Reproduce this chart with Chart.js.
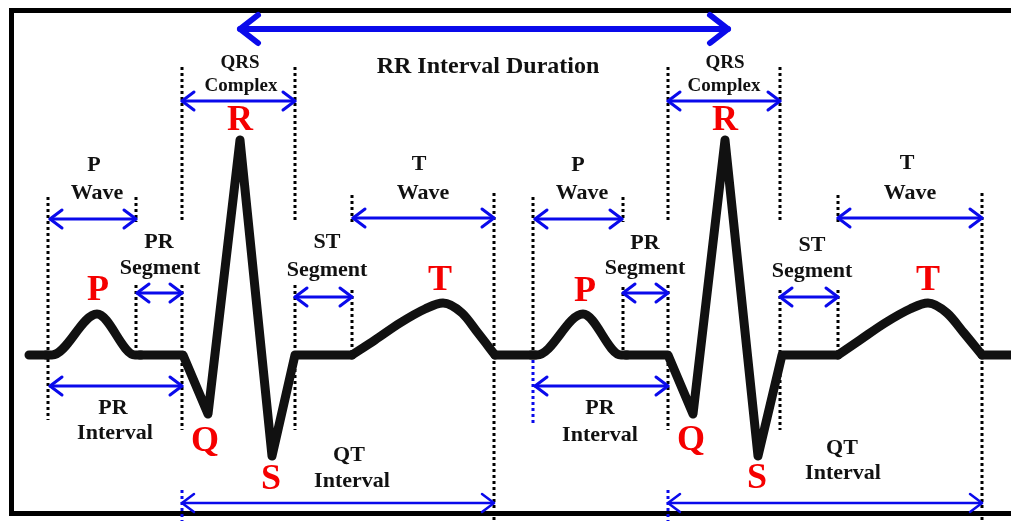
<!DOCTYPE html>
<html>
<head>
<meta charset="utf-8">
<script src="https://cdn.jsdelivr.net/npm/chart.js@4.4.1/dist/chart.umd.min.js"></script>
<style>
  html, body { margin: 0; padding: 0; background: #fff; }
  canvas { display: block; }
</style>
</head>
<body>
<canvas id="ecg" width="1011" height="521"></canvas>
<script>
// ECG trace, two beats (x = time units, y = screen units, down is larger)
// sharp parts: baseline and QRS spikes (null = gap where a smooth wave sits)
const sharpX = [29, 47, 47, 140, 183, 208, 240, 272, 295, 352, 352, 495, 535, 535, 626, 668, 693, 725, 758, 782, 838, 838, 982, 1011];
const sharpY = [355, 355, null, 355, 355, 414, 140, 456, 355, 355, null, 355, 355, null, 355, 355, 414, 140, 456, 355, 355, null, 355, 355];
// smooth parts: P and T waves (short flat stubs either side of each P wave)
const waveX = [46, 52, 97, 135, 141, 141, 352, 375, 400, 425, 443, 462, 478, 495, 495, 531, 537, 583, 621, 627, 627, 838, 860, 885, 910, 928, 947, 964, 982];
const waveY = [355, 355, 314, 355, 355, null, 355, 340, 323, 309, 303, 313, 333, 355, null, 355, 355, 314, 355, 355, null, 355, 340, 323, 309, 303, 313, 333, 355];

// dotted guide lines
const guideX  = [48, 136, 136, 182, 182, 295, 295, 352, 352, 494, 533, 623, 623, 668, 668, 780, 780, 838, 838, 982];
const guideY1 = [197, 197, 285, 67, 285, 67, 285, 195, 290, 193, 197, 197, 287, 67, 285, 67, 290, 195, 290, 193];
const guideY2 = [420, 222, 352, 222, 430, 222, 430, 222, 352, 521, 357, 222, 352, 222, 430, 222, 430, 222, 352, 521];
const blueGuideX  = [182, 533, 668];
const blueGuideY1 = [490, 360, 490];
const blueGuideY2 = [521, 423, 521];

// double arrows
const arrowX1 = [240, 182, 668, 50, 535, 353, 838, 137, 623, 295, 780, 50, 535, 182, 668];
const arrowX2 = [728, 295, 780, 136, 622, 494, 982, 182, 668, 352, 838, 182, 668, 494, 982];
const arrowY  = [29, 101, 101, 219, 219, 218, 218, 293, 293, 297, 297, 386, 386, 503, 503];

// black labels
const labelText = ['RR Interval Duration',
  'P', 'Wave', 'PR', 'Segment', 'ST', 'Segment', 'T', 'Wave', 'PR', 'Interval', 'QT', 'Interval',
  'P', 'Wave', 'PR', 'Segment', 'ST', 'Segment', 'T', 'Wave', 'PR', 'Interval', 'QT', 'Interval'];
const labelX = [488,
  94, 97, 159, 160, 327, 327, 419, 423, 113, 115, 349, 352,
  578, 582, 645, 645, 812, 812, 907, 910, 600, 600, 842, 843];
const labelY = [67,
  165, 193, 242, 268, 242, 270, 164, 193, 408, 433, 455, 481,
  165, 193, 243, 268, 245, 271, 163, 193, 408, 435, 448, 473];
const qrsText = ['QRS', 'Complex', 'QRS', 'Complex'];
const qrsX = [240, 241, 725, 724];
const qrsY = [63, 86, 63, 86];

// red wave letters
const peakText = ['P', 'R', 'Q', 'S', 'T', 'P', 'R', 'Q', 'S', 'T'];
const peakX = [98, 240, 205, 271, 440, 585, 725, 691, 757, 928];
const peakY = [291, 121, 442, 480, 281, 292, 121, 441, 479, 281];

const BLUE = 'rgb(10,10,235)';
const RED = 'rgb(245,0,0)';
const FONT = '"Liberation Serif", "Times New Roman", serif';

function arrowHead(ctx, x, y, dir, len, half) {
  ctx.beginPath();
  ctx.moveTo(x + dir * len, y - half);
  ctx.lineTo(x, y);
  ctx.lineTo(x + dir * len, y + half);
  ctx.stroke();
}

const diagram = {
  id: 'diagram',
  beforeDatasetsDraw(chart) {
    const ctx = chart.ctx;
    const sx = chart.scales.x, sy = chart.scales.y;
    ctx.save();
    // frame (right side is cut off in the original)
    ctx.strokeStyle = '#000';
    ctx.lineWidth = 5;
    ctx.beginPath();
    ctx.moveTo(sx.getPixelForValue(1011), sy.getPixelForValue(10.5));
    ctx.lineTo(sx.getPixelForValue(11.5), sy.getPixelForValue(10.5));
    ctx.lineTo(sx.getPixelForValue(11.5), sy.getPixelForValue(513.5));
    ctx.lineTo(sx.getPixelForValue(1011), sy.getPixelForValue(513.5));
    ctx.stroke();
    // dotted guides
    ctx.lineWidth = 3;
    ctx.setLineDash([3, 3]);
    ctx.strokeStyle = '#000';
    guideX.forEach((x, i) => {
      ctx.beginPath();
      ctx.moveTo(sx.getPixelForValue(x), sy.getPixelForValue(guideY1[i]));
      ctx.lineTo(sx.getPixelForValue(x), sy.getPixelForValue(guideY2[i]));
      ctx.stroke();
    });
    ctx.strokeStyle = BLUE;
    blueGuideX.forEach((x, i) => {
      ctx.beginPath();
      ctx.moveTo(sx.getPixelForValue(x), sy.getPixelForValue(blueGuideY1[i]));
      ctx.lineTo(sx.getPixelForValue(x), sy.getPixelForValue(blueGuideY2[i]));
      ctx.stroke();
    });
    ctx.restore();
  },
  afterDatasetsDraw(chart) {
    const ctx = chart.ctx;
    const sx = chart.scales.x, sy = chart.scales.y;
    ctx.save();
    // arrows
    ctx.strokeStyle = BLUE;
    ctx.lineCap = 'round';
    ctx.lineJoin = 'round';
    arrowX1.forEach((x1, i) => {
      const big = i === 0;
      const a = sx.getPixelForValue(x1), b = sx.getPixelForValue(arrowX2[i]);
      const y = sy.getPixelForValue(arrowY[i]);
      ctx.lineWidth = big ? 6 : (i >= 13 ? 2.5 : 3);
      ctx.beginPath();
      ctx.moveTo(a, y);
      ctx.lineTo(b, y);
      ctx.stroke();
      const len = big ? 18 : 12, half = big ? 14 : 9;
      arrowHead(ctx, a, y, 1, len, half);
      arrowHead(ctx, b, y, -1, len, half);
    });
    // labels
    ctx.textAlign = 'center';
    ctx.textBaseline = 'middle';
    ctx.fillStyle = '#111';
    labelText.forEach((t, i) => {
      ctx.font = 'bold ' + (i === 0 ? 24 : 22) + 'px ' + FONT;
      ctx.fillText(t, sx.getPixelForValue(labelX[i]), sy.getPixelForValue(labelY[i]));
    });
    ctx.font = 'bold 19px ' + FONT;
    qrsText.forEach((t, i) => {
      ctx.fillText(t, sx.getPixelForValue(qrsX[i]), sy.getPixelForValue(qrsY[i]));
    });
    ctx.fillStyle = RED;
    ctx.font = 'bold 36px ' + FONT;
    peakText.forEach((t, i) => {
      ctx.fillText(t, sx.getPixelForValue(peakX[i]), sy.getPixelForValue(peakY[i]));
    });
    ctx.restore();
  }
};

const trace = {
  borderColor: '#111',
  borderWidth: 9,
  borderJoinStyle: 'round',
  borderCapStyle: 'round',
  pointRadius: 0,
  spanGaps: false,
  fill: false
};

new Chart(document.getElementById('ecg').getContext('2d'), {
  type: 'line',
  data: {
    datasets: [
      Object.assign({
        data: sharpX.map((x, i) => ({ x: x, y: sharpY[i] })),
        tension: 0
      }, trace),
      Object.assign({
        data: waveX.map((x, i) => ({ x: x, y: waveY[i] })),
        cubicInterpolationMode: 'monotone'
      }, trace)
    ]
  },
  options: {
    responsive: false,
    animation: false,
    layout: { padding: 0 },
    plugins: { legend: { display: false }, tooltip: { enabled: false } },
    scales: {
      x: { type: 'linear', min: 0, max: 1011, display: false },
      y: { type: 'linear', min: 0, max: 521, reverse: true, display: false }
    }
  },
  plugins: [diagram]
});
</script>
</body>
</html>
